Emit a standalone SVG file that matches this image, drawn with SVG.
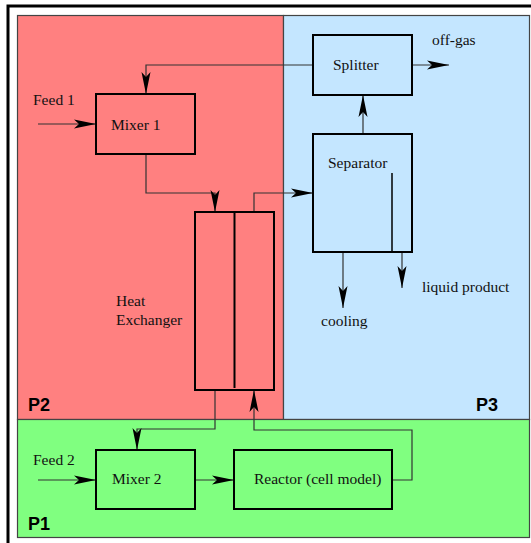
<svg xmlns="http://www.w3.org/2000/svg" width="531" height="543" viewBox="0 0 531 543">
<style>
.reg{stroke:#444;stroke-width:1.2}
.box{fill:none;stroke:#000;stroke-width:2}
.t{font-family:"Liberation Serif","Times New Roman",serif;font-size:15.5px;fill:#111}
.p{font-family:"Liberation Sans",Arial,sans-serif;font-size:18px;font-weight:bold;fill:#000}
.c{fill:none;stroke:#333;stroke-width:1.2}
</style>
<defs>
<marker id="ah" markerUnits="userSpaceOnUse" markerWidth="24" markerHeight="12" refX="22" refY="6" orient="auto" viewBox="0 0 24 12">
<path d="M22,6 L0,1.5 L5,6 L0,10.5 Z" fill="#000"/>
</marker>
</defs>
<rect x="0" y="0" width="531" height="543" fill="#fff"/>
<rect x="8" y="6" width="540" height="550" fill="#fff" stroke="#000" stroke-width="3"/>
<g id="regions">
<rect class="reg" x="17.5" y="15.5" width="266" height="404" fill="#ff8080"/>
<rect class="reg" x="283.5" y="15.5" width="246" height="404" fill="#c4e6ff"/>
<rect class="reg" x="17.5" y="419.5" width="512" height="118" fill="#80ff80"/>
<text class="p" x="28" y="411">P2</text>
<text class="p" x="476" y="411">P3</text>
<text class="p" x="28" y="530">P1</text>
</g>
<g id="connectors">
<path class="c" d="M38,124 H96" marker-end="url(#ah)"/>
<path class="c" d="M313,65 H146 V94" marker-end="url(#ah)"/>
<path class="c" d="M146,154 V193 H215 V212" marker-end="url(#ah)"/>
<path class="c" d="M254,212 V193 H313" marker-end="url(#ah)"/>
<path class="c" d="M412,65 H449" marker-end="url(#ah)"/>
<path class="c" d="M363,134 V95" marker-end="url(#ah)"/>
<path class="c" d="M343,252 V308" marker-end="url(#ah)"/>
<path class="c" d="M402,252 V288" marker-end="url(#ah)"/>
<path class="c" d="M215,390 V429 H137 V450" marker-end="url(#ah)"/>
<path class="c" d="M38,480 H96" marker-end="url(#ah)"/>
<path class="c" d="M195,480 H234" marker-end="url(#ah)"/>
<path class="c" d="M392,480 H412 V430 H254 V390" marker-end="url(#ah)"/>
</g>
<g id="feed1"><text class="t" x="33" y="105">Feed 1</text></g>
<g id="mixer1">
<rect class="box" x="96" y="94" width="99" height="60"/>
<text class="t" x="111" y="130">Mixer 1</text>
</g>
<g id="heat-exchanger">
<rect class="box" x="195" y="212" width="79" height="178"/>
<line x1="234.5" y1="212" x2="234.5" y2="388" stroke="#000" stroke-width="2"/>
<text class="t" x="116" y="306">Heat</text>
<text class="t" x="116" y="325">Exchanger</text>
</g>
<g id="splitter">
<rect class="box" x="313" y="35" width="99" height="60"/>
<text class="t" x="333" y="70">Splitter</text>
</g>
<g id="offgas"><text class="t" x="432" y="45">off-gas</text></g>
<g id="separator">
<rect class="box" x="313" y="134" width="99" height="118"/>
<line x1="392" y1="173" x2="392" y2="252" stroke="#000" stroke-width="1.5"/>
<text class="t" x="328" y="168">Separator</text>
</g>
<g id="cooling"><text class="t" x="321" y="326">cooling</text></g>
<g id="liquid-product"><text class="t" x="422" y="292">liquid product</text></g>
<g id="feed2"><text class="t" x="33" y="465">Feed 2</text></g>
<g id="mixer2">
<rect class="box" x="96" y="450" width="99" height="59"/>
<text class="t" x="112" y="484">Mixer 2</text>
</g>
<g id="reactor">
<rect class="box" x="234" y="450" width="158" height="59"/>
<text class="t" x="254" y="484">Reactor (cell model)</text>
</g>
</svg>
